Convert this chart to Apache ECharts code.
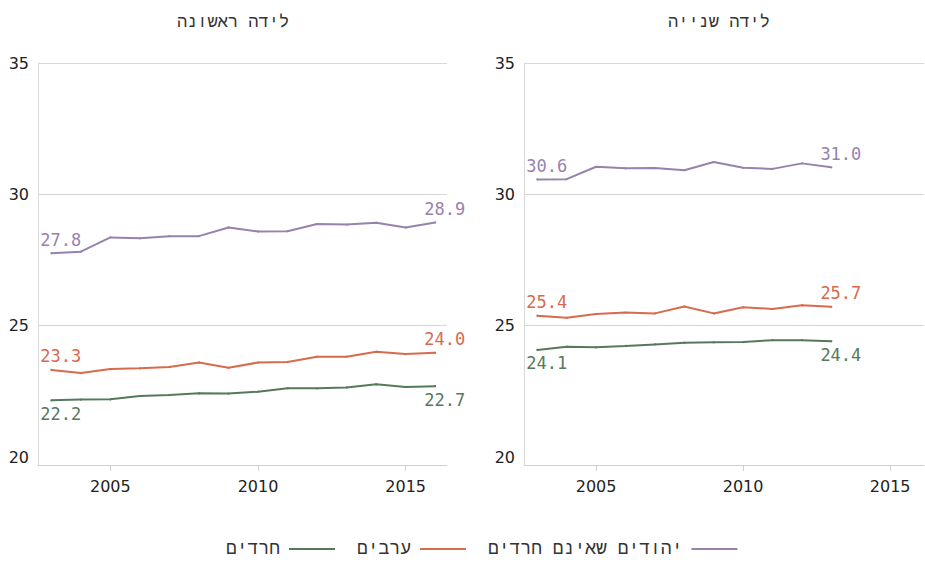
<!DOCTYPE html>
<html>
<head>
<meta charset="utf-8">
<script src="https://cdn.jsdelivr.net/npm/echarts@6/dist/echarts.min.js"></script>
<style>
  html, body { margin: 0; padding: 0; background: #fff; }
  #chart { width: 925px; height: 565px; }
</style>
</head>
<body>
<div id="chart"></div>
<script>
// שנים
const yearsFirst = [2003, 2004, 2005, 2006, 2007, 2008, 2009, 2010, 2011, 2012, 2013, 2014, 2015, 2016]
const yearsSecond = [2003, 2004, 2005, 2006, 2007, 2008, 2009, 2010, 2011, 2012, 2013]

// לידה ראשונה
const jewsFirst = [27.76, 27.82, 28.36, 28.33, 28.41, 28.41, 28.74, 28.59, 28.6, 28.87, 28.85, 28.92, 28.74, 28.93]
const arabsFirst = [23.32, 23.2, 23.35, 23.38, 23.43, 23.6, 23.4, 23.6, 23.62, 23.82, 23.82, 24.01, 23.92, 23.97]
const haredimFirst = [22.16, 22.19, 22.2, 22.33, 22.36, 22.43, 22.42, 22.49, 22.62, 22.62, 22.65, 22.77, 22.67, 22.7]

// לידה שנייה
const jewsSecond = [30.57, 30.58, 31.05, 30.99, 31.0, 30.92, 31.23, 31.01, 30.97, 31.18, 31.03]
const arabsSecond = [25.38, 25.3, 25.45, 25.5, 25.47, 25.73, 25.47, 25.7, 25.64, 25.78, 25.72]
const haredimSecond = [24.08, 24.2, 24.18, 24.23, 24.29, 24.35, 24.37, 24.38, 24.45, 24.45, 24.41]

const yTicks = [20, 25, 30, 35]
const xTicks = [2005, 2010, 2015]

const names = ['יהודים שאינם חרדים', 'ערבים', 'חרדים']
const colors = ['#9782ad', '#d86a4e', '#557a5b']

function pairs(years, vals) {
  return years.map((y, i) => [y, vals[i]])
}

// סדרה עם תווית בנקודה הראשונה והאחרונה בלבד
function makeSeries(idx, years, vals, grid, below) {
  const last = vals.length - 1
  return {
    name: names[idx],
    type: 'line',
    xAxisIndex: grid,
    yAxisIndex: grid,
    data: pairs(years, vals),
    symbol: 'circle',
    symbolSize: 2,
    showAllSymbol: true,
    lineStyle: { color: colors[idx], width: 2 },
    itemStyle: { color: colors[idx] },
    label: {
      show: true,
      position: below ? 'bottom' : 'top',
      distance: 4,
      padding: [0, 0, 0, 19],
      color: colors[idx],
      fontFamily: 'DejaVu Sans Mono',
      fontSize: 17,
      formatter: p => (p.dataIndex === 0 || p.dataIndex === last) ? p.value[1].toFixed(1) : ''
    },
    labelLayout: { hideOverlap: false },
    emphasis: { disabled: true }
  }
}

function xAxisOf(grid, max) {
  return {
    type: 'value',
    gridIndex: grid,
    min: 2002.55,
    max: max,
    axisLine: { show: true, lineStyle: { color: '#d0d0d0' } },
    axisTick: { show: true, length: 6, lineStyle: { color: '#d0d0d0' }, customValues: xTicks },
    axisLabel: {
      color: '#222', fontSize: 16, fontFamily: 'DejaVu Sans', margin: 13,
      customValues: xTicks,
      formatter: v => String(v)
    },
    splitLine: { show: false }
  }
}

function yAxisOf(grid) {
  return {
    type: 'value',
    gridIndex: grid,
    min: 19.7,
    max: 35,
    axisLine: { show: true, lineStyle: { color: '#d8d8d8' } },
    axisTick: { show: false, customValues: [25, 30, 35] },
    axisLabel: { color: '#222', fontSize: 16, fontFamily: 'DejaVu Sans', margin: 9, customValues: yTicks },
    splitLine: { show: true, lineStyle: { color: '#d8d8d8' } }
  }
}

let HChart = echarts.init(document.getElementById('chart'), null, { renderer: 'svg' })

let option = {
  animation: false,
  title: [
    {
      text: 'לידה ראשונה',
      left: 228, top: 9, textAlign: 'center',
      textStyle: { fontSize: 17, fontWeight: 'normal', color: '#333', fontFamily: 'Liberation Mono' }
    },
    {
      text: 'לידה שנייה',
      left: 714, top: 9, textAlign: 'center',
      textStyle: { fontSize: 17, fontWeight: 'normal', color: '#333', fontFamily: 'Liberation Mono' }
    }
  ],
  legend: {
    data: ['חרדים', 'ערבים', 'יהודים שאינם חרדים'],
    bottom: 2,
    left: 221,
    align: 'right',
    icon: 'rect',
    itemWidth: 46,
    itemHeight: 2,
    itemGap: 22,
    textStyle: { fontSize: 18, color: '#333', fontFamily: 'Liberation Mono', padding: [0, 4, 0, 0] }
  },
  grid: [
    { left: 38, right: 478, top: 63, bottom: 100 },
    { left: 524, right: 1, top: 63, bottom: 100 }
  ],
  xAxis: [xAxisOf(0, 2016.4), xAxisOf(1, 2016.15)],
  yAxis: [yAxisOf(0), yAxisOf(1)],
  series: [
    makeSeries(0, yearsFirst, jewsFirst, 0, false),
    makeSeries(1, yearsFirst, arabsFirst, 0, false),
    makeSeries(2, yearsFirst, haredimFirst, 0, true),
    makeSeries(0, yearsSecond, jewsSecond, 1, false),
    makeSeries(1, yearsSecond, arabsSecond, 1, false),
    makeSeries(2, yearsSecond, haredimSecond, 1, true)
  ]
}

HChart.setOption(option)
window.addEventListener('resize', () => {
  HChart.resize()
})
</script>
</body>
</html>
